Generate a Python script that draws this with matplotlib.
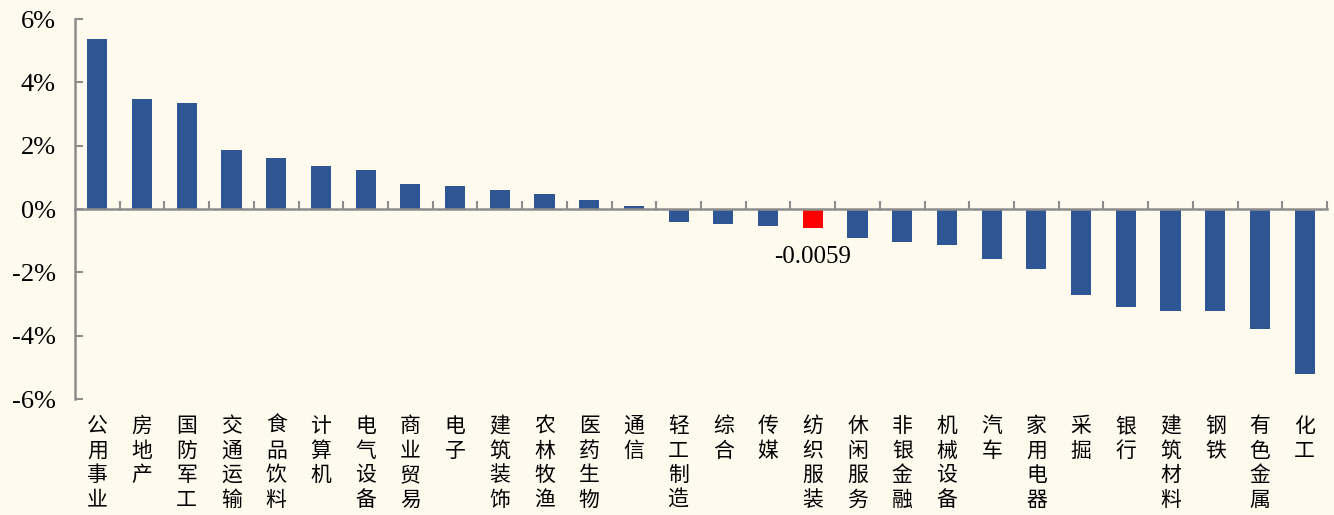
import matplotlib
matplotlib.use('Agg')
import matplotlib.pyplot as plt
import matplotlib.transforms as mtransforms
import numpy as np

categories = ['公用事业', '房地产', '国防军工', '交通运输', '食品饮料', '计算机', '电气设备',
              '商业贸易', '电子', '建筑装饰', '农林牧渔', '医药生物', '通信', '轻工制造',
              '综合', '传媒', '纺织服装', '休闲服务', '非银金融', '机械设备', '汽车',
              '家用电器', '采掘', '银行', '建筑材料', '钢铁', '有色金属', '化工']
values = [0.0538, 0.0346, 0.0334, 0.0188, 0.0162, 0.0136, 0.0124,
          0.0079, 0.0072, 0.0060, 0.0047, 0.0028, 0.0009, -0.0041,
          -0.0048, -0.0054, -0.0059, -0.0093, -0.0105, -0.0112, -0.0157,
          -0.0188, -0.0272, -0.0310, -0.0323, -0.0323, -0.0380, -0.0521]
highlight = '纺织服装'
yticks = [-0.06, -0.04, -0.02, 0.0, 0.02, 0.04, 0.06]

bg = '#FEFAEE'
blue = '#2F5694'
axis_gray = '#8C8C8C'

fig = plt.figure(figsize=(13.34, 5.15), dpi=100, facecolor=bg)
ax = fig.add_axes([0.0562, 0.2252, 0.9386, 0.7378])
ax.set_facecolor(bg)

x = np.arange(len(categories))
colors = ['#FF0000' if c == highlight else blue for c in categories]
ax.bar(x, values, width=0.45, color=colors, zorder=2)

ax.set_xlim(-0.5, len(categories) - 0.5)
ax.set_ylim(-0.06, 0.06)

# spines: left axis plus the zero line
for s in ['top', 'right']:
    ax.spines[s].set_visible(False)
ax.spines['bottom'].set_position(('data', 0))
ax.spines['bottom'].set_color(axis_gray)
ax.spines['bottom'].set_linewidth(1.8)
ax.spines['bottom'].set_zorder(3)
ax.spines['left'].set_color(axis_gray)
ax.spines['left'].set_linewidth(1.8)

ax.set_yticks(yticks)
ax.set_yticklabels(['%d%%' % round(v * 100) for v in yticks],
                   fontfamily='Liberation Serif', fontsize=19)
ax.tick_params(axis='y', direction='in', length=6, width=1.5, color=axis_gray, pad=14)

ax.set_xticks(np.arange(0.5, len(categories), 1.0))
ax.set_xticklabels([])
ax.tick_params(axis='x', direction='in', length=6, width=1.5, color=axis_gray)

# vertical category labels under the plot
trans = mtransforms.blended_transform_factory(ax.transData, ax.transAxes)
for i, c in enumerate(categories):
    ax.text(i, -0.042, '\n'.join(c), transform=trans, ha='center', va='top',
            fontfamily='Noto Sans CJK SC', fontsize=15, linespacing=1.15)

# label on the highlighted bar
hi = categories.index(highlight)
ax.annotate('%.4f' % values[hi], xy=(hi, values[hi]), xytext=(0, -13),
            textcoords='offset points', ha='center', va='top',
            fontfamily='Liberation Serif', fontsize=18)

plt.savefig('out.png', dpi=100, facecolor=bg)
plt.close()
